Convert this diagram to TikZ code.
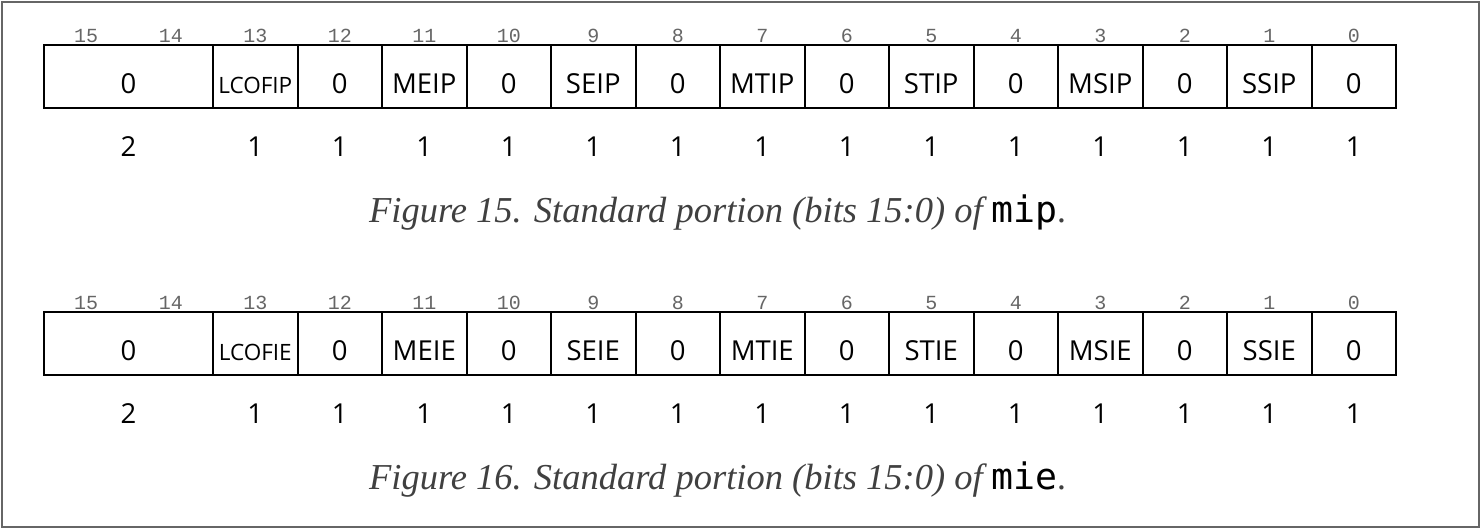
\documentclass[tikz,border=0pt]{standalone}
\usepackage{fontspec}
\newfontfamily\fieldfont{Open Sans}
\newfontfamily\bitfont{Liberation Mono}
\newfontfamily\capfont{Liberation Serif}
\newfontfamily\codefont{DejaVu Sans Mono}
\definecolor{framegray}{HTML}{666666}
\definecolor{bitgray}{HTML}{666666}
\definecolor{capgray}{HTML}{404040}
\tikzset{
  cell/.style={draw=black, line width=2pt, minimum height=63pt, inner sep=0pt, font=\fieldfont\fontsize{27.5}{27.5}\selectfont, text height=40pt, text depth=7pt},
  smallcell/.style={cell, font=\fieldfont\fontsize{22.5}{22.5}\selectfont},
  bitnum/.style={anchor=base, inner sep=0pt, text=bitgray, font=\bitfont\fontsize{20}{20}\selectfont},
  widthlab/.style={anchor=base, inner sep=0pt, font=\fieldfont\fontsize{27.5}{27.5}\selectfont},
  caption/.style={anchor=base, inner sep=0pt, text=capgray, font=\capfont\itshape\fontsize{36.5}{36.5}\selectfont},
}
\begin{document}
\begin{tikzpicture}[x=1pt,y=-1pt]
\useasboundingbox (0,0) rectangle (1480,528);
\draw[framegray, line width=2pt] (1.5,1.5) rectangle (1478.5,526.5);
\def\u{84.5}
\foreach \r/\top/\suf in {1/45/P, 2/312/E}{
  % field 15:14
  \node[cell, minimum width=2*\u pt] (f\r-15) at ({44+\u}, {\top+31.5}) {0};
  \foreach \b/\t in {13/LCOFI\suf, 12/0, 11/MEI\suf, 10/0, 9/SEI\suf, 8/0, 7/MTI\suf, 6/0, 5/STI\suf, 4/0, 3/MSI\suf, 2/0, 1/SSI\suf, 0/0}{
    \ifnum\b=13
      \node[smallcell, minimum width=\u pt] (f\r-\b) at ({44+(15.5-\b)*\u}, {\top+31.5}) {\t};
    \else
      \node[cell, minimum width=\u pt] (f\r-\b) at ({44+(15.5-\b)*\u}, {\top+31.5}) {\t};
    \fi
    \node[widthlab] (w\r-\b) at ({44+(15.5-\b)*\u}, {\top+111}) {1};
  }
  \node[widthlab] (w\r-15) at ({44+\u}, {\top+111}) {2};
  \foreach \b in {15,...,0}{
    \node[bitnum] (b\r-\b) at ({44+(15.5-\b)*\u}, {\top-3}) {\b};
  }
}
\node[caption] (cap1) at (718, 222) {Figure 15. Standard portion (bits 15:0) of {\upshape\codefont\color{black}mip}.};
\node[caption] (cap2) at (718, 489) {Figure 16. Standard portion (bits 15:0) of {\upshape\codefont\color{black}mie}.};
\end{tikzpicture}
\end{document}
